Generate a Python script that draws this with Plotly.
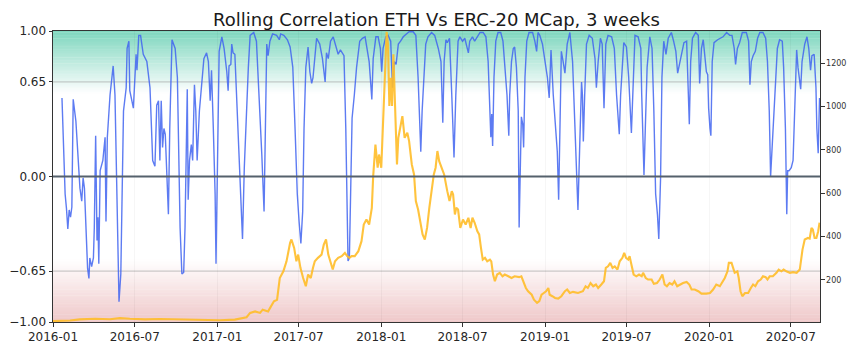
import plotly.graph_objects as go
import pandas as pd

# ---------------- data ----------------
start_date = "2016-01-01"

# rolling 3-week correlation (left axis): days since start, value
corr_days = [20, 27, 30, 33, 36, 39, 42, 45, 51, 56, 60, 64, 67, 70, 73, 77, 80, 82, 86, 90,
             92, 95, 98, 100, 102, 105, 111, 116, 118, 121, 127, 134, 138, 142, 147, 151, 157, 163, 165, 169,
             171, 179, 185, 187, 191, 195, 201, 209, 216, 222, 227, 231, 235, 238, 241, 244, 247, 250, 257, 260,
             265, 272, 277, 283, 287, 291, 294, 299, 301, 304, 308, 311, 315, 318, 321, 326, 331, 336, 342, 346,
             350, 353, 357, 361, 363, 366, 370, 376, 381, 387, 390, 392, 396, 398, 401, 405, 410, 414, 418, 422,
             426, 431, 435, 439, 447, 453, 459, 465, 470, 473, 476, 479, 483, 489, 498, 504, 507, 514, 522, 528,
             534, 539, 544, 548, 552, 556, 559, 563, 568, 572, 576, 579, 583, 587, 594, 600, 606, 609, 613, 618,
             624, 630, 635, 640, 644, 648, 652, 655, 657, 660, 663, 666, 671, 676, 683, 689, 695, 698, 704, 710,
             713, 719, 724, 729, 732, 735, 741, 746, 752, 756, 760, 764, 769, 774, 780, 787, 793, 802, 808, 813,
             819, 822, 826, 830, 835, 843, 850, 858, 864, 868, 871, 875, 878, 883, 888, 893, 897, 902, 906, 912,
             917, 925, 928, 934, 939, 945, 951, 958, 964, 969, 973, 975, 977, 979, 982, 986, 991, 997, 1002, 1008,
             1011, 1015, 1017, 1021, 1025, 1028, 1032, 1036, 1038, 1041, 1043, 1046, 1048, 1051, 1055, 1060, 1068, 1073, 1077, 1080,
             1084, 1090, 1095, 1101, 1105, 1109, 1114, 1120, 1123, 1126, 1129, 1132, 1136, 1140, 1145, 1151, 1157, 1162, 1166, 1169,
             1173, 1177, 1179, 1181, 1184, 1188, 1194, 1201, 1207, 1210, 1214, 1219, 1223, 1227, 1231, 1236, 1244, 1250, 1255, 1261,
             1264, 1267, 1271, 1277, 1282, 1288, 1292, 1296, 1303, 1309, 1311, 1314, 1316, 1319, 1323, 1329, 1334, 1338, 1342, 1346,
             1349, 1353, 1356, 1360, 1365, 1370, 1377, 1382, 1387, 1391, 1396, 1401, 1405, 1411, 1414, 1417, 1420, 1424, 1431, 1437,
             1440, 1444, 1448, 1451, 1455, 1458, 1460, 1463, 1465, 1468, 1472, 1480, 1487, 1492, 1500, 1507, 1512, 1517, 1520, 1524,
             1529, 1535, 1544, 1549, 1552, 1555, 1559, 1564, 1569, 1574, 1581, 1587, 1591, 1595, 1598, 1601, 1605, 1610, 1613, 1618,
             1624, 1627, 1631, 1634, 1636, 1639, 1644, 1648, 1652, 1656, 1659, 1665, 1668, 1674, 1679, 1683, 1687, 1690, 1695, 1699,
             1701, 1704, 1707]
corr_vals = [0.54, -0.12, -0.22, -0.36, -0.23, -0.28, -0.21, 0.53, 0.38, 0.15, -0.08, -0.17, -0.01, -0.08, -0.35, -0.63, -0.70, -0.56, -0.62, -0.56,
             -0.35, 0.28, -0.44, -0.28, -0.60, 0.04, 0.11, 0.27, -0.31, 0.27, 0.56, 0.76, 0.56, 0.01, -0.86, -0.67, 0.45, 0.61, 0.88, 0.93,
             0.59, 0.47, 0.84, 0.73, 0.97, 0.97, 0.84, 0.79, 0.61, 0.11, 0.07, 0.49, 0.52, 0.11, 0.52, 0.20, 0.33, 0.29, -0.26, 0.33,
             0.94, 0.88, 0.68, -0.35, -0.67, -0.66, -0.35, 0.60, -0.16, 0.11, 0.22, 0.11, 0.63, 0.45, 0.11, 0.45, 0.62, 0.81, 0.85, 0.79,
             0.52, 0.73, 0.33, -0.12, -0.60, 0.11, 0.86, 0.96, 0.88, 0.72, 0.59, 0.76, 0.77, 0.91, 0.85, 0.84, 0.45, 0.17, -0.19, -0.43,
             0.06, 0.49, 0.75, 0.97, 0.99, 0.93, 0.56, 0.15, -0.24, 0.45, 0.91, 0.83, 0.93, 0.98, 0.97, 0.94, 0.98, 0.97, 0.94, 0.89,
             0.75, 0.33, -0.12, -0.31, -0.46, -0.24, 0.33, 0.75, 0.89, 0.72, 0.64, 0.68, 0.81, 0.95, 0.91, 0.81, 0.65, 0.85, 0.81, 0.93,
             0.96, 0.89, 0.84, 0.87, 0.85, 0.83, 0.33, -0.35, -0.58, -0.56, -0.01, 0.40, 0.56, 0.75, 0.93, 0.95, 0.96, 0.91, 0.79, 0.53,
             0.81, 0.96, 0.96, 0.88, 0.72, 0.88, 0.96, 0.97, 0.93, 0.61, 0.79, 0.77, 0.91, 0.93, 0.96, 0.98, 0.995, 0.995, 0.97, 0.68,
             0.17, 0.45, 0.68, 0.91, 0.96, 0.99, 0.97, 0.88, 0.79, 0.37, 0.79, 0.94, 0.92, 0.95, 0.56, 0.13, 0.56, 0.93, 0.96, 0.93,
             0.95, 0.85, 0.93, 0.96, 0.93, 0.96, 0.99, 0.99, 0.96, 0.79, 0.45, 0.27, 0.43, 0.21, 0.68, 0.93, 0.99, 0.99, 0.93, 0.72,
             0.56, 0.28, 0.56, 0.79, 0.88, 0.89, 0.75, 0.45, -0.35, 0.11, 0.41, 0.36, 0.20, 0.68, 0.93, 0.99, 0.99, 0.93, 0.86, 0.99,
             0.97, 0.91, 0.81, 0.68, 0.54, 0.87, 0.56, 0.29, 0.17, -0.16, 0.45, 0.86, 0.79, 0.71, 0.91, 0.99, 0.79, 0.33, -0.01, -0.23,
             0.22, 0.65, 0.56, 0.24, 0.56, 0.91, 0.97, 0.95, 0.81, 0.61, 0.79, 0.95, 0.91, 0.47, 0.91, 0.97, 0.96, 0.88, 0.56, 0.29,
             0.56, 0.75, 0.92, 0.89, 0.68, 0.30, 0.68, 0.97, 0.96, 0.88, 0.56, 0.17, 0.01, 0.33, 0.75, 0.96, 0.88, 0.45, -0.12, -0.26,
             -0.43, -0.01, 0.68, 0.93, 0.84, 0.95, 0.99, 0.93, 0.86, 0.71, 0.79, 0.86, 0.92, 0.93, 0.68, 0.36, 0.79, 0.95, 0.99, 0.97,
             0.64, 0.88, 0.94, 0.84, 0.72, 0.70, 0.47, 0.33, 0.28, 0.79, 0.92, 0.94, 0.95, 0.96, 0.99, 0.97, 0.97, 0.88, 0.77, 0.88,
             0.92, 0.99, 0.99, 0.93, 0.63, 0.79, 0.83, 0.86, 0.95, 0.99, 0.99, 0.95, 0.79, 0.45, 0.0, 0.17, 0.43, 0.68, 0.88, 0.94,
             0.93, 0.75, 0.33, -0.26, 0.04, 0.04, 0.06, 0.11, 0.56, 0.87, 0.75, 0.60, 0.79, 0.91, 0.96, 0.88, 0.73, 0.83, 0.84, 0.61,
             0.33, 0.16, 0.54]

# ERC-20 market cap (right axis): days since start, value
mcap_days = [0, 16, 38, 60, 94, 127, 149, 171, 205, 238, 283, 327, 372, 405, 421, 431, 439, 450, 461, 467,
             479, 487, 492, 499, 505, 513, 520, 528, 531, 537, 542, 546, 551, 557, 563, 568, 574, 579, 583, 590,
             598, 603, 608, 613, 618, 623, 628, 635, 643, 650, 655, 660, 665, 672, 680, 687, 692, 698, 704, 710,
             713, 718, 723, 726, 731, 735, 739, 743, 746, 749, 752, 755, 758, 762, 766, 769, 774, 778, 783, 789,
             793, 799, 804, 808, 813, 817, 823, 828, 833, 838, 843, 848, 852, 856, 860, 865, 871, 878, 883, 888,
             891, 895, 898, 902, 907, 913, 919, 925, 930, 934, 939, 945, 949, 953, 957, 962, 967, 973, 976, 980,
             984, 989, 995, 1001, 1006, 1014, 1021, 1028, 1038, 1043, 1047, 1053, 1058, 1066, 1071, 1078, 1083, 1088, 1093, 1098,
             1103, 1106, 1112, 1118, 1125, 1132, 1140, 1145, 1151, 1158, 1169, 1180, 1186, 1191, 1197, 1203, 1209, 1214, 1221, 1227,
             1231, 1236, 1241, 1246, 1251, 1257, 1262, 1268, 1272, 1276, 1281, 1284, 1288, 1293, 1299, 1305, 1311, 1314, 1320, 1325,
             1333, 1338, 1345, 1351, 1357, 1362, 1367, 1373, 1379, 1384, 1390, 1396, 1403, 1411, 1417, 1422, 1429, 1437, 1444, 1455,
             1463, 1470, 1477, 1485, 1490, 1496, 1502, 1505, 1511, 1514, 1518, 1524, 1527, 1531, 1535, 1541, 1548, 1554, 1559, 1564,
             1570, 1576, 1581, 1587, 1591, 1596, 1603, 1611, 1616, 1622, 1627, 1633, 1641, 1648, 1656, 1663, 1667, 1669, 1674, 1681,
             1685, 1689, 1692, 1696, 1700, 1704, 1707]
mcap_vals = [10, 11, 13, 18, 21, 19, 24, 21, 18, 20, 18, 15, 14, 17, 22, 28, 48, 55, 48, 63,
             55, 86, 102, 109, 209, 240, 286, 371, 387, 348, 286, 317, 256, 209, 171, 225, 209, 256, 286, 302,
             317, 363, 387, 317, 286, 248, 286, 302, 310, 325, 310, 302, 310, 310, 333, 379, 456, 479, 456, 533,
             679, 825, 718, 779, 718, 949, 1210, 1345, 1287, 1003, 1133, 1003, 1241, 979, 733, 856, 918, 956, 856, 879,
             841, 733, 687, 564, 525, 471, 410, 387, 440, 533, 625, 687, 718, 795, 748, 718, 687, 610, 564, 610,
             594, 502, 533, 525, 440, 479, 456, 487, 440, 487, 464, 425, 410, 348, 294, 302, 286, 294, 286, 225,
             194, 225, 233, 217, 225, 217, 209, 217, 213, 217, 194, 163, 148, 132, 109, 94, 102, 132, 140, 148,
             163, 132, 125, 117, 114, 125, 148, 156, 140, 145, 140, 148, 171, 163, 186, 171, 179, 163, 179, 194,
             256, 263, 279, 256, 263, 248, 286, 302, 325, 302, 294, 310, 271, 225, 217, 225, 217, 233, 209, 202,
             202, 182, 186, 202, 225, 179, 171, 186, 179, 194, 171, 179, 186, 191, 179, 156, 156, 148, 137, 137,
             140, 156, 179, 171, 186, 209, 240, 279, 279, 263, 233, 240, 209, 148, 125, 140, 140, 163, 179, 171,
             194, 202, 217, 213, 202, 217, 217, 233, 248, 240, 248, 240, 233, 236, 233, 248, 317, 340, 387, 394,
             391, 440, 433, 394, 394, 425, 464]

x_tick_dates = ["2016-01-01", "2016-07-01", "2017-01-01", "2017-07-01", "2018-01-01",
                "2018-07-01", "2019-01-01", "2019-07-01", "2020-01-01", "2020-07-01"]
x_tick_labels = ["2016-01", "2016-07", "2017-01", "2017-07", "2018-01",
                 "2018-07", "2019-01", "2019-07", "2020-01", "2020-07"]
y_ticks = [1.0, 0.65, 0.0, -0.65, -1.0]
y_tick_labels = ["1.00", "0.65", "0.00", "\u22120.65", "\u22121.00"]
y2_ticks = [200, 400, 600, 800, 1000, 1200]

# ---------------- figure ----------------
t0 = pd.Timestamp(start_date)
corr_x = t0 + pd.to_timedelta(corr_days, unit="D")
mcap_x = t0 + pd.to_timedelta(mcap_days, unit="D")
x_end = t0 + pd.Timedelta(days=1708)

fig = go.Figure()

# gradient bands
shapes = []
N = 40
top_col = (126, 214, 190)
bot_col = (239, 200, 201)
lo, hi = 0.57, 1.0
for i in range(N):
    a = lo + (hi - lo) * i / N
    b = lo + (hi - lo) * (i + 1) / N + 0.003
    f = (i + 0.5) / N
    c = tuple(int(round(255 + (tc - 255) * f)) for tc in top_col)
    shapes.append(dict(type="rect", xref="paper", yref="y", x0=0, x1=1, y0=a, y1=min(b, 1.0),
                       fillcolor="rgb(%d,%d,%d)" % c, line=dict(width=0), layer="below"))
    c2 = tuple(int(round(255 + (bc - 255) * f)) for bc in bot_col)
    shapes.append(dict(type="rect", xref="paper", yref="y", x0=0, x1=1, y0=-min(b, 1.0), y1=-a,
                       fillcolor="rgb(%d,%d,%d)" % c2, line=dict(width=0), layer="below"))
for lvl in (0.65, -0.65):
    shapes.append(dict(type="line", xref="paper", yref="y", x0=0, x1=1, y0=lvl, y1=lvl,
                       line=dict(color="rgba(150,150,150,0.6)", width=1), layer="below"))
shapes.append(dict(type="line", xref="paper", yref="y", x0=0, x1=1, y0=0, y1=0,
                   line=dict(color="#55616c", width=2), layer="above"))

fig.add_trace(go.Scatter(x=corr_x, y=corr_vals, mode="lines",
                         line=dict(color="rgba(65,100,240,0.85)", width=1.4),
                         name="corr", yaxis="y"))
fig.add_trace(go.Scatter(x=mcap_x, y=mcap_vals, mode="lines",
                         line=dict(color="rgba(255,188,40,0.9)", width=2.1),
                         name="mcap", yaxis="y2"))

axis_font = dict(family="DejaVu Sans", size=12, color="#262626")
fig.update_layout(
    width=855, height=351,
    margin=dict(l=53, r=35, t=31, b=29, autoexpand=False),
    paper_bgcolor="white", plot_bgcolor="white",
    showlegend=False,
    shapes=shapes,
    title=dict(text="Rolling Correlation ETH Vs ERC-20 MCap, 3 weeks",
               x=0.5, xref="paper", xanchor="center", y=0.943, yanchor="middle",
               font=dict(family="DejaVu Sans", size=18, color="#1a1a1a")),
    xaxis=dict(type="date", range=[t0, x_end], tickvals=x_tick_dates, ticktext=x_tick_labels,
               tickfont=axis_font, ticks="outside", ticklen=3.5, tickcolor="#333",
               showline=True, linecolor="#333", linewidth=1, mirror=True, automargin=False,
               showgrid=True, gridcolor="rgba(0,0,0,0.035)", zeroline=False),
    yaxis=dict(range=[-1, 1], tickvals=y_ticks, ticktext=y_tick_labels, tickfont=axis_font,
               ticks="outside", ticklen=3.5, tickcolor="#333", automargin=False,
               showline=True, linecolor="#333", linewidth=1, mirror=True,
               showgrid=False, zeroline=False),
    yaxis2=dict(overlaying="y", side="right", range=[6, 1349], tickvals=y2_ticks,
                tickfont=dict(family="DejaVu Sans", size=8, color="#333"),
                ticks="outside", ticklen=3.5, tickcolor="#333", automargin=False,
                showline=True, linecolor="#333", linewidth=1,
                showgrid=False, zeroline=False),
)

fig.write_html("out.html")
